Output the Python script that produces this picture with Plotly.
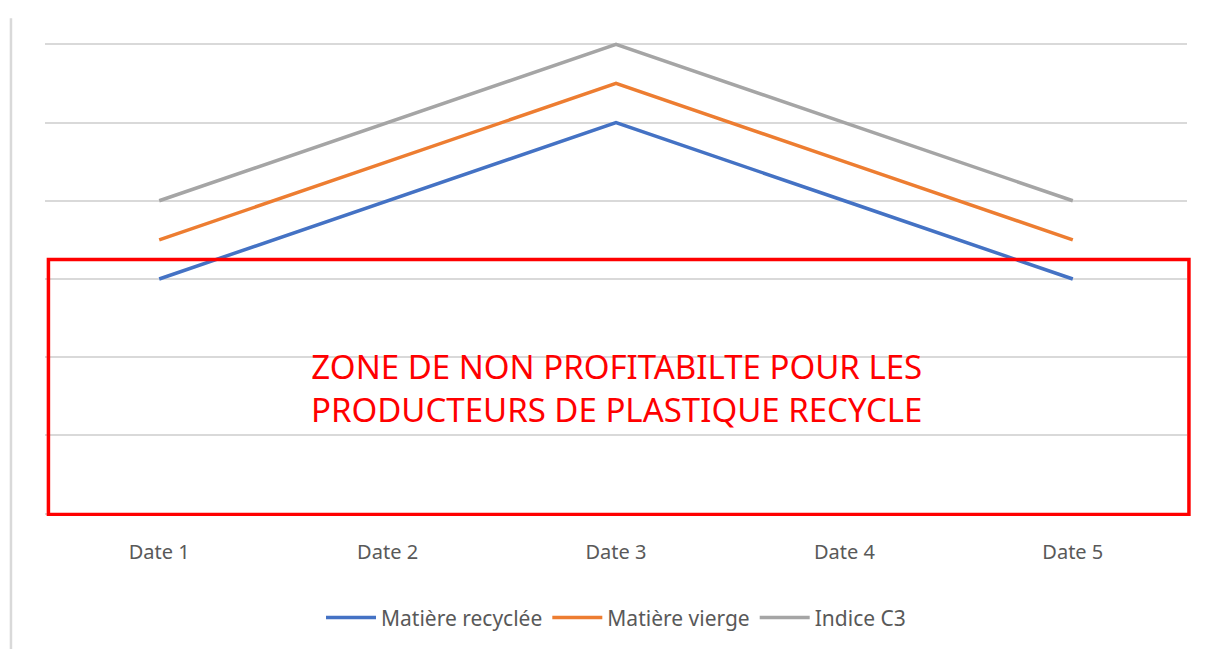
import plotly.graph_objects as go

# Series data
dates = ["Date 1", "Date 2", "Date 3", "Date 4", "Date 5"]
matiere_recyclee = [3, 4, 5, 4, 3]
matiere_vierge = [3.5, 4.5, 5.5, 4.5, 3.5]
indice_c3 = [4, 5, 6, 5, 4]

# Upper bound of the non-profitability zone (value axis units)
zone_top = 3.25
zone_label = "ZONE DE NON PROFITABILTE POUR LES<br>PRODUCTEURS DE PLASTIQUE RECYCLE"

series = [
    ("Matière recyclée", matiere_recyclee, "#4472C4"),
    ("Matière vierge", matiere_vierge, "#ED7D31"),
    ("Indice C3", indice_c3, "#A5A5A5"),
]

fig = go.Figure()
for name, values, color in series:
    fig.add_trace(go.Scatter(
        x=dates, y=values, name=name, mode="lines",
        line=dict(color=color, width=3.5),
    ))

W, H = 1206, 649
ml, mr, mt, mb = 45, 19, 42, 133

fig.update_layout(
    width=W, height=H,
    margin=dict(l=ml, r=mr, t=mt, b=mb, autoexpand=False),
    paper_bgcolor="white", plot_bgcolor="white",
    font=dict(family="Noto Sans, Open Sans, sans-serif", color="#595959"),
    showlegend=True,
    legend=dict(
        orientation="h", x=0.5, xanchor="center", y=-0.215, yanchor="middle",
        font=dict(size=21, color="#595959"),
        itemwidth=50,
    ),
    xaxis=dict(
        type="category", range=[-0.5, 4.5],
        showgrid=False, zeroline=False, showline=False,
        ticks="", tickfont=dict(size=20, color="#595959"),
        ticklabelstandoff=22,
    ),
    yaxis=dict(
        range=[-0.03, 6.03], dtick=1, showticklabels=False,
        showgrid=True, gridcolor="#D9D9D9", gridwidth=2,
        zeroline=False, showline=False,
    ),
)

# Thin frame line on the left edge of the chart area
fig.add_shape(
    type="line", xref="paper", yref="paper",
    x0=-0.0298, x1=-0.0298, y0=-0.29, y1=1.05,
    line=dict(color="#D9D9D9", width=2.5),
)

# Non-profitability zone
fig.add_shape(
    type="rect", xref="paper", yref="y",
    x0=0.003, x1=1.0017, y0=-0.01, y1=zone_top,
    line=dict(color="#FF0000", width=3.5),
    fillcolor="rgba(0,0,0,0)",
)
fig.add_annotation(
    xref="paper", yref="y", x=0.5, y=1.61,
    text=zone_label, showarrow=False,
    font=dict(family="Noto Sans, Open Sans, sans-serif", size=33, color="#FF0000"),
    align="center",
)

fig.write_html("out.html")
